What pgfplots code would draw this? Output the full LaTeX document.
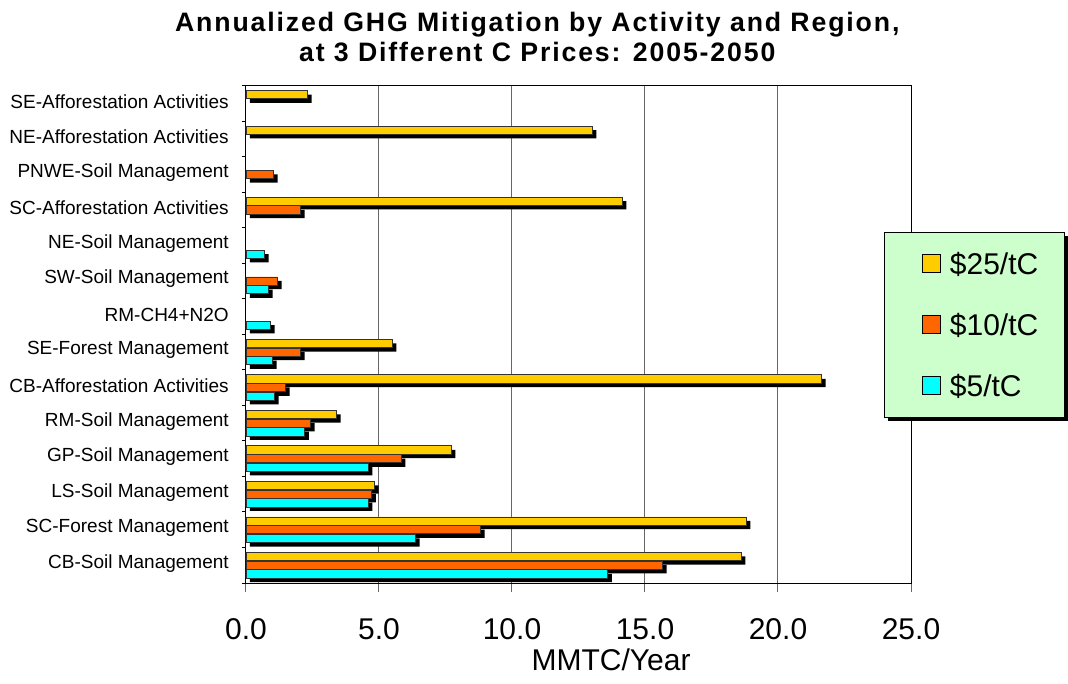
\documentclass[border=0pt]{standalone}
\usepackage{fontspec}
\setmainfont{Liberation Sans}
\newfontfamily\titlefont[LetterSpace=7]{Liberation Sans}
\usepackage{pgfplots}
\pgfplotsset{compat=1.18}
\usetikzlibrary{shadows}

\definecolor{c25}{HTML}{FFCC00}
\definecolor{c10}{HTML}{FF6600}
\definecolor{c5}{HTML}{00FFFF}
\definecolor{legbg}{HTML}{CCFFCC}

% legend swatches must not inherit the legend box shadow
\makeatletter
\tikzset{no preactions/.code={\let\tikz@preactions\pgfutil@empty}}
\makeatother

\begin{document}
\begin{tikzpicture}
\useasboundingbox (-184.5pt,-75pt) rectangle (616.5pt,437.25pt);
\begin{axis}[
  at={(0pt,0pt)}, anchor=south west,
  scale only axis, width=498.75pt, height=373pt,
  xbar, bar width=6.2pt,
  xmin=0, xmax=25, ymin=-0.5, ymax=13.5,
  axis line style={black, line width=0.75pt},
  tick pos=left,
  xtick={0,5,...,25},
  /pgf/number format/assume math mode=true,
  xticklabel={\pgfmathprintnumber[fixed,fixed zerofill,precision=1]{\tick}},
  xticklabel style={font=\fontsize{22.5}{27}\selectfont, anchor=base, inner sep=0pt, yshift=-35.25pt},
  ytick={0,...,13},
  yticklabels={CB-Soil Management, SC-Forest Management, LS-Soil Management,
    GP-Soil Management, RM-Soil Management, CB-Afforestation Activities,
    SE-Forest Management, RM-CH4+N2O, SW-Soil Management, NE-Soil Management,
    SC-Afforestation Activities, PNWE-Soil Management,
    NE-Afforestation Activities, SE-Afforestation Activities},
  yticklabel style={font=\fontsize{14.25}{17}\selectfont, anchor=east, inner sep=0pt, xshift=-6pt, yshift=1.5pt},
  minor ytick={-0.5,0.5,...,13.5},
  tick align=outside,
  major tick length=6.75pt, minor tick length=3pt,
  major x tick style={black!60, line width=0.75pt},
  major y tick style={draw=none},
  minor y tick style={black, line width=0.75pt},
  xmajorgrids, grid style={black!60, line width=0.75pt},
  title={Annualized GHG Mitigation by Activity and Region,\\at 3 Different C Prices: 2005-2050},
  title style={at={(axis description cs:0.438,1)}, anchor=south, inner sep=0pt,
    font=\titlefont\bfseries\fontsize{20}{22.5}\selectfont, align=center, yshift=11.5pt},
  xlabel={MMTC/Year},
  xlabel style={at={(axis description cs:0.549,0)}, anchor=base, inner sep=0pt,
    yshift=-65.25pt, font=\fontsize{22.5}{27}\selectfont},
  legend style={at={(axis description cs:0.9594,0.7064)}, anchor=north west,
    draw=black, line width=0.75pt, fill=legbg,
    drop shadow={shadow xshift=3pt, shadow yshift=-3pt, opacity=1, fill=black},
    font=\fontsize{22.5}{27}\selectfont,
    inner xsep=19.5pt, inner ysep=15.6pt, row sep=29.75pt, column sep=6.75pt,
    nodes={inner sep=0pt, text height=16pt, text depth=0pt}},
  legend cell align=left,
  legend image code/.code={
    \path[no preactions, draw=none, fill=none] (0pt,0pt) -- (22.5pt,0pt);
    \draw[no preactions, #1, draw=black, line width=0.6pt] (9pt,-6.75pt) rectangle (22.5pt,6.75pt);},
]
% $25/tC
\addplot[draw=none, fill=black, forget plot, bar shift=6.5pt, xshift=3pt, yshift=-3pt]
  coordinates {(18.62,0) (18.81,1) (4.84,2) (7.72,3) (3.41,4) (21.64,5) (5.50,6) (14.15,10) (13.02,12) (2.32,13)};
\addplot[fill=c25, draw=black!80, line width=0.6pt, bar shift=6.5pt]
  coordinates {(18.62,0) (18.81,1) (4.84,2) (7.72,3) (3.41,4) (21.64,5) (5.50,6) (14.15,10) (13.02,12) (2.32,13)};
\addlegendentry{\$25/tC}
% $10/tC
\addplot[draw=none, fill=black, forget plot, bar shift=0pt, xshift=3pt, yshift=-3pt]
  coordinates {(15.66,0) (8.82,1) (4.73,2) (5.84,3) (2.43,4) (1.49,5) (2.05,6) (1.19,8) (2.05,10) (1.04,11)};
\addplot[fill=c10, draw=black!80, line width=0.6pt, bar shift=0pt]
  coordinates {(15.66,0) (8.82,1) (4.73,2) (5.84,3) (2.43,4) (1.49,5) (2.05,6) (1.19,8) (2.05,10) (1.04,11)};
\addlegendentry{\$10/tC}
% $5/tC
\addplot[draw=none, fill=black, forget plot, bar shift=-6.5pt, xshift=3pt, yshift=-3pt]
  coordinates {(13.60,0) (6.38,1) (4.60,2) (4.60,3) (2.21,4) (1.08,5) (1.00,6) (0.93,7) (0.85,8) (0.70,9)};
\addplot[fill=c5, draw=black!80, line width=0.6pt, bar shift=-6.5pt]
  coordinates {(13.60,0) (6.38,1) (4.60,2) (4.60,3) (2.21,4) (1.08,5) (1.00,6) (0.93,7) (0.85,8) (0.70,9)};
\addlegendentry{\$5/tC}
\end{axis}
\end{tikzpicture}
\end{document}
